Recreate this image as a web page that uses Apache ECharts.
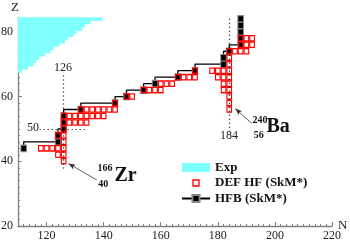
<!DOCTYPE html>
<html><head><meta charset="utf-8">
<script src="https://cdn.jsdelivr.net/npm/echarts@6.0.0/dist/echarts.min.js"></script>
<style>html,body{margin:0;padding:0;background:#fff}#c{width:350px;height:242px}</style>
</head><body><div id="c"></div>
<script>
// ---- data ----
const xTickLabels = [120, 140, 160, 180, 200, 220];
const yTickLabels = [20, 40, 60, 80];
// experimental region: for each Z the largest known N
const expZ    = [68, 69, 70, 71, 72, 73, 74, 75, 76, 77, 78, 79, 80, 81, 82, 83, 84];
const expNmax = [111,113,115,116,117,119,121,122,124,126,127,129,130,132,133,135,139];
// DEF HF (SkM*) nuclei
const defHfN = [126, 124,126, 118,120,122,124,126, 126, 124,126, 126,
  126,128,130,132,134, 126,128,130,132,134,136,138,140,
  132,134,136,138,140,142,144,184, 144,184, 148,150,184,
  154,156,158,160,182,184, 160,162,164,182,184,
  166,168,170,172,180,182,184, 172,178,180,182,184, 184, 184,
  184,186,188,190, 188,190,192, 188,190,192];
const defHfZ = [40, 42,42, 44,44,44,44,44, 46, 48,48, 50,
  52,52,52,52,52, 54,54,54,54,54,54,54,54,
  56,56,56,56,56,56,56,56, 58,58, 60,60,60,
  62,62,62,62,62,62, 64,64,64,64,64,
  66,66,66,66,66,66,66, 68,68,68,68,68, 70, 72,
  74,74,74,74, 76,76,76, 78,78,78];
// HFB (SkM*) drip line
const hfbN = [112,124,124,126,126,126,132,144,148,154,158,166,172,182,182,184,188,188,188,188,188];
const hfbZ = [ 44, 46, 48, 50, 52, 54, 56, 58, 60, 62, 64, 66, 68, 70, 72, 74, 76, 78, 80, 82, 84];

// ---- chart ----
const FONT = '"Liberation Serif","Times New Roman",serif';
const xMin = 110, xMax = 220, yMin = 20, yMax = 84.5;
const minorX = []; for (let v = xMin; v <= xMax; v += 2) minorX.push(v);
const minorY = []; for (let v = yMin; v <= 84; v += 2) minorY.push(v);
const AX = '#808080';

const chart = echarts.init(document.getElementById('c'), null, {renderer: 'canvas'});
const axisBaseX = {type: 'value', min: xMin, max: xMax, position: 'bottom', splitLine: {show: false}};
const axisBaseY = {type: 'value', min: yMin, max: yMax, position: 'left', splitLine: {show: false}};

chart.setOption({
  animation: false,
  grid: {left: 18, right: 18, top: 17.3, bottom: 16, containLabel: false, outerBoundsMode: 'none'},
  xAxis: [
    Object.assign({}, axisBaseX, {
      name: 'N', nameLocation: 'end', nameGap: 6, nameMoveOverlap: false,
      nameTextStyle: {fontFamily: FONT, fontSize: 13, color: '#222'},
      axisLine: {show: true, onZero: false, lineStyle: {color: AX, width: 1.3}},
      axisTick: {show: true, inside: true, length: 4, customValues: xTickLabels, lineStyle: {color: AX, width: 1}},
      axisLabel: {customValues: xTickLabels, margin: 4, fontFamily: FONT, fontSize: 12, color: '#222'}
    }),
    Object.assign({}, axisBaseX, {
      axisLine: {show: false, onZero: false},
      axisTick: {show: true, inside: true, length: 2, customValues: minorX, lineStyle: {color: AX, width: 1}},
      axisLabel: {show: false}
    })
  ],
  yAxis: [
    Object.assign({}, axisBaseY, {
      name: 'Z', nameLocation: 'end', nameGap: 3, nameMoveOverlap: false,
      nameTextStyle: {fontFamily: FONT, fontSize: 13, color: '#222', padding: [0, 6, 0, 0]},
      axisLine: {show: true, onZero: false, lineStyle: {color: AX, width: 1.3}},
      axisTick: {show: true, inside: true, length: 4, customValues: yTickLabels, lineStyle: {color: AX, width: 1}},
      axisLabel: {customValues: yTickLabels, margin: 5, fontFamily: FONT, fontSize: 12, color: '#222'}
    }),
    Object.assign({}, axisBaseY, {
      axisLine: {show: false, onZero: false},
      axisTick: {show: true, inside: true, length: 2, customValues: minorY, lineStyle: {color: AX, width: 1}},
      axisLabel: {show: false}
    })
  ],
  legend: {
    orient: 'vertical', left: 176, top: 156, itemWidth: 28, itemHeight: 9, itemGap: 2.5,
    textStyle: {fontFamily: FONT, fontWeight: 'bold', fontSize: 13, color: '#111'},
    selectedMode: false,
    data: [
      {name: 'Exp', icon: 'rect', itemStyle: {color: '#80ffff', borderWidth: 0}},
      {name: 'DEF HF (SkM*)', icon: 'path://M0,0M9,9M1.5,1.5H7.5V7.5H1.5Z',
        itemStyle: {color: '#ffffff', borderColor: '#ff0000', borderWidth: 1.3}},
      {name: 'HFB (SkM*)'}
    ]
  },
  series: [
    {
      name: 'Exp', type: 'custom', xAxisIndex: 0, yAxisIndex: 0, z: 1,
      data: expNmax.map((n, i) => [n, expZ[i]]),
      encode: {x: 0, y: 1},
      itemStyle: {color: '#80ffff'},
      renderItem: function (params, api) {
        const n = api.value(0), z = api.value(1);
        const a = api.coord([xMin, z + 0.5]);
        const b = api.coord([n + 0.5, z - 0.5]);
        const cs = params.coordSys;
        const r = echarts.graphic.clipRectByRect(
          {x: a[0], y: a[1], width: b[0] - a[0], height: b[1] - a[1] + 0.4},
          {x: cs.x, y: cs.y, width: cs.width, height: cs.height});
        return r && {type: 'rect', shape: r, style: {fill: '#80ffff'}};
      }
    },
    {
      name: 'HFB (SkM*)', type: 'line', step: 'start', xAxisIndex: 0, yAxisIndex: 0, z: 3,
      data: hfbN.map((n, i) => [n, hfbZ[i]]),
      symbol: 'rect', symbolSize: [5.5, 6.5], showAllSymbol: true, clip: false,
      itemStyle: {color: '#000', borderColor: '#888', borderWidth: 1},
      lineStyle: {color: '#000', width: 1.3}
    },
    {
      name: 'DEF HF (SkM*)', type: 'scatter', xAxisIndex: 0, yAxisIndex: 0, z: 4,
      data: defHfN.map((n, i) => [n, defHfZ[i]]),
      symbol: 'rect', symbolSize: [4.6, 5.3],
      itemStyle: {color: 'rgba(255,255,255,0)', borderColor: '#ff0000', borderWidth: 1.2, opacity: 1},
      markLine: {
        silent: true, symbol: 'none', label: {show: false}, animation: false,
        lineStyle: {color: '#000', type: [1, 3], width: 1.2},
        data: [
          [{coord: [126, 37.8]}, {coord: [126, 66.7]}],
          [{coord: [184, 49.1]}, {coord: [184, 84.3]}],
          [{coord: [117.6, 50]}, {coord: [133.6, 50]}],
          [{coord: [137.6, 34.2], symbol: 'none'}, {coord: [127.7, 39.3], symbol: 'arrow', symbolSize: [4, 7],
            lineStyle: {type: 'solid', width: 0.8, color: '#333'}}],
          [{coord: [191.9, 51.7], symbol: 'none'}, {coord: [186.1, 56.3], symbol: 'arrow', symbolSize: [4, 7],
            lineStyle: {type: 'solid', width: 0.8, color: '#333'}}]
        ]
      }
    }
  ],
  graphic: [
    {type: 'text', x: 63, y: 67.5, z: 10, style: {text: '126', font: '12px ' + FONT, fill: '#222', align: 'center', verticalAlign: 'middle'}},
    {type: 'text', x: 33, y: 127.7, z: 10, style: {text: '50', font: '12px ' + FONT, fill: '#222', align: 'center', verticalAlign: 'middle'}},
    {type: 'text', x: 229, y: 136, z: 10, style: {text: '184', font: '12px ' + FONT, fill: '#222', align: 'center', verticalAlign: 'middle'}},
    {type: 'text', x: 105, y: 168.3, z: 10, style: {text: '166', font: 'bold 10px ' + FONT, fill: '#111', align: 'center', verticalAlign: 'middle'}},
    {type: 'text', x: 103.3, y: 184.5, z: 10, style: {text: '40', font: 'bold 10px ' + FONT, fill: '#111', align: 'center', verticalAlign: 'middle'}},
    {type: 'text', x: 114.5, y: 175.5, z: 10, style: {text: 'Zr', font: 'bold 20px ' + FONT, fill: '#111', align: 'left', verticalAlign: 'middle'}},
    {type: 'text', x: 260, y: 120.3, z: 10, style: {text: '240', font: 'bold 10px ' + FONT, fill: '#111', align: 'center', verticalAlign: 'middle'}},
    {type: 'text', x: 258.7, y: 135, z: 10, style: {text: '56', font: 'bold 10px ' + FONT, fill: '#111', align: 'center', verticalAlign: 'middle'}},
    {type: 'text', x: 266.5, y: 127.2, z: 10, style: {text: 'Ba', font: 'bold 20px ' + FONT, fill: '#111', align: 'left', verticalAlign: 'middle'}}
  ]
});
</script>
</body></html>
